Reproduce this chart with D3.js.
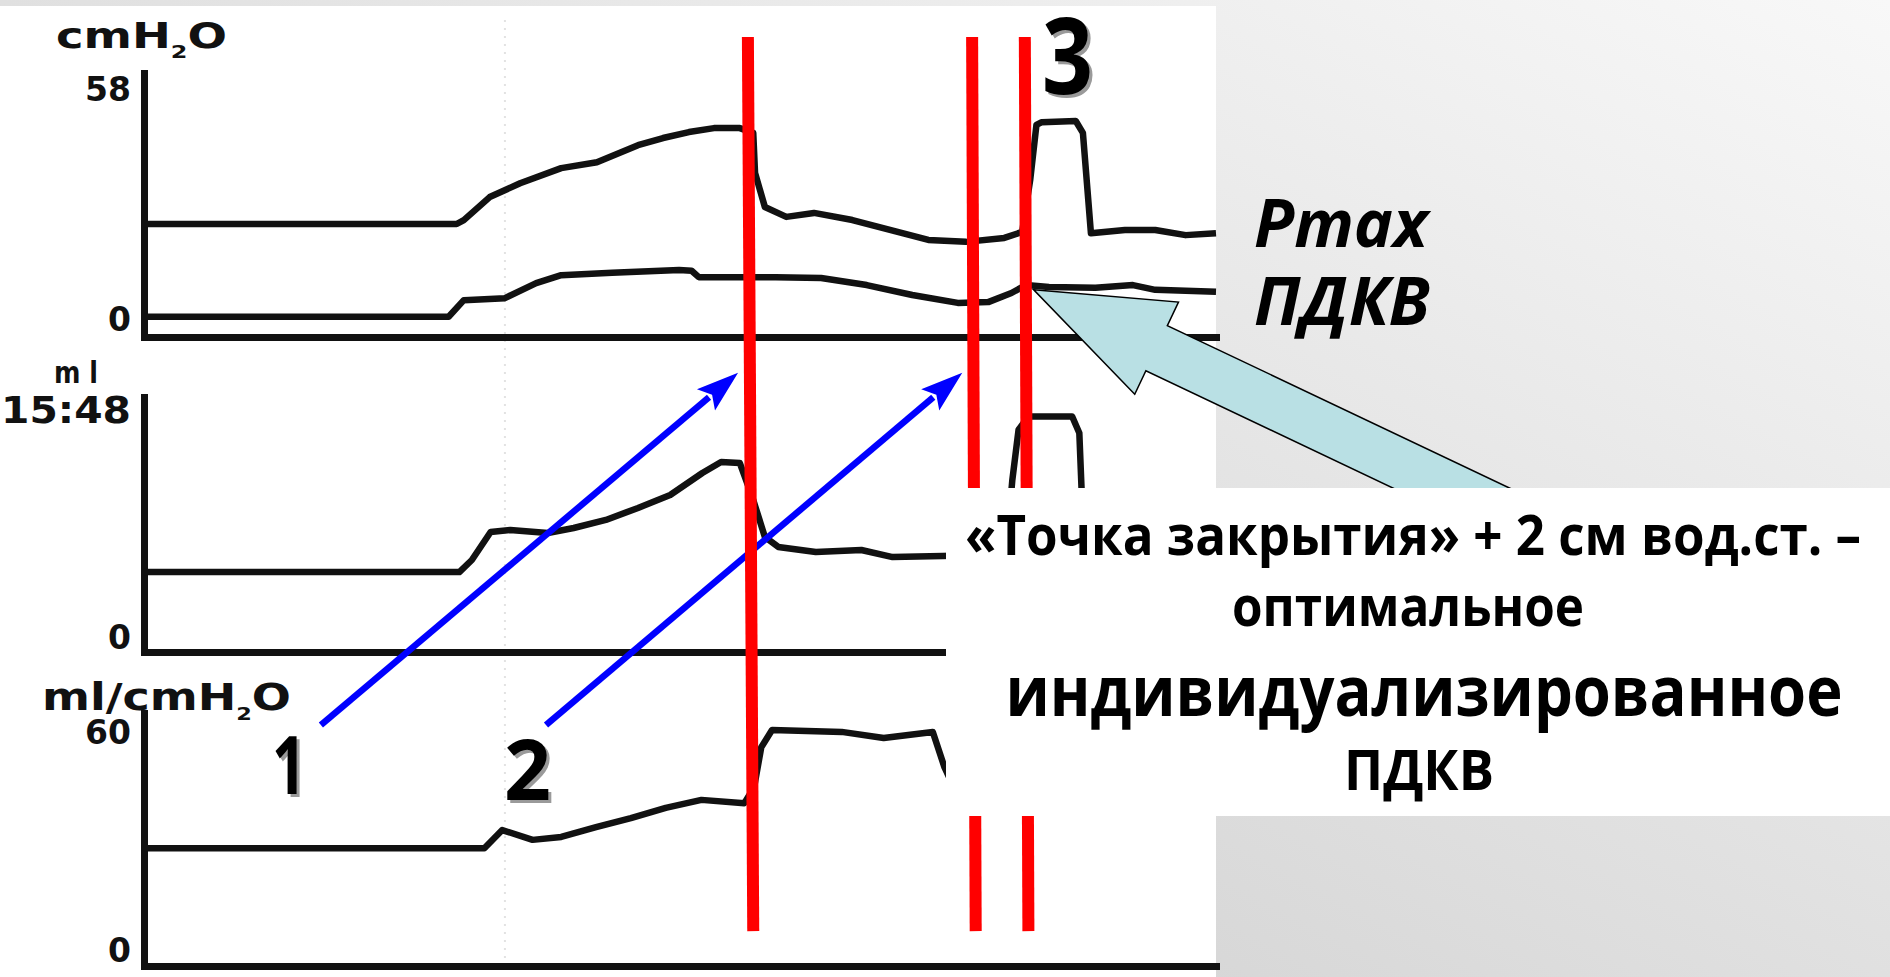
<!DOCTYPE html>
<html lang="ru">
<head>
<meta charset="utf-8">
<title>ПДКВ</title>
<script src="https://d3js.org/d3.v7.min.js"></script>
<style>
  html, body { margin: 0; padding: 0; overflow: hidden; background: #fff; }
  svg { display: block; }
  .tick text { font-family: "DejaVu Sans", sans-serif; font-weight: bold; font-size: 33px; fill: #111; }
  .unit { font-family: "Liberation Sans Narrow", "DejaVu Sans Condensed", "Liberation Sans", sans-serif; font-weight: bold; fill: #111; }
  .big { font-family: "Open Sans", sans-serif; font-weight: 700; }
</style>
</head>
<body>
<script>
  const width = 1890;
  const height = 977;

  // time, s (shared by all three curves)
  const tPmax = [0, 35.0, 35.8, 38.7, 42.1, 46.7, 50.7, 55.3, 58.1, 61.0, 63.8, 66.7, 68.2, 68.4, 69.5, 71.9, 75.0, 79.3, 83.5, 87.8, 92.0, 96.3, 98.3, 99.2, 99.9, 100.5, 104.3, 105.1, 105.7, 106.0, 109.8, 113.2, 116.6, 120];
  const pmax = [24.2, 24.2, 25.2, 31.0, 34.5, 38.3, 39.8, 44.1, 45.9, 47.4, 48.4, 48.4, 47.2, 37.1, 28.5, 26.0, 27.0, 25.2, 22.7, 20.2, 19.7, 20.7, 22.2, 35.3, 49.2, 49.9, 50.2, 47.2, 30.3, 21.9, 22.7, 22.7, 21.4, 21.9];

  const tPeep = [0, 34.1, 35.8, 40.4, 43.9, 46.7, 52.4, 59.9, 61.3, 62.1, 67.7, 70.7, 75.8, 80.9, 86.0, 91.1, 94.5, 97.1, 98.7, 101.3, 106.5, 110.7, 113.2, 120];
  const peep = [0.8, 0.8, 5.0, 5.5, 9.3, 11.3, 11.9, 12.6, 12.4, 10.8, 10.8, 10.8, 10.6, 8.8, 6.3, 4.3, 4.5, 6.8, 8.8, 8.3, 8.1, 8.8, 7.6, 7.1];

  const tVolume = [0, 35.3, 36.7, 38.8, 41.0, 45.2, 48.1, 51.7, 55.3, 58.9, 62.5, 64.6, 66.7, 68.2, 69.5, 71.0, 75.2, 80.3, 83.8, 89.4, 93.6, 96.5, 97.2, 97.9, 99.0, 103.9, 104.7, 105.0, 105.5, 109.3, 120];
  const volume = [450, 450, 532, 723, 737, 716, 750, 805, 887, 975, 1125, 1200, 1193, 941, 689, 621, 586, 600, 552, 559, 566, 586, 1077, 1420, 1510, 1510, 1398, 941, 532, 498, 532];

  const tCompliance = [0, 38.1, 40.1, 43.5, 46.7, 50.6, 54.5, 58.4, 62.4, 67.2, 68.3, 69.1, 70.3, 78.1, 82.8, 88.3, 89.6, 91.3, 95.8, 99.5, 100.5, 102.5, 106, 120];
  const compliance = [28.3, 28.3, 33.3, 30.6, 31.4, 34.1, 36.6, 39.4, 41.6, 40.7, 45.1, 56.1, 60.8, 60.3, 58.6, 60.3, 50.6, 41.6, 40.2, 38.6, 38.2, 39.6, 40.2, 40.2];

  const pressureTicks = [0, 58];
  const volumeTicks = [0, 1548];
  const volumeTickLabels = ["0", "15:48"];
  const complianceTicks = [0, 60];

  // red markers: time at top / at bottom
  const markerTop = [67.6, 92.7, 98.6];
  const markerBottom = [68.2, 93.1, 99.0];
  const markerTopPressure = 71.4;
  const markerBottomCompliance = 5.5;

  // blue pointers: tail (t, compliance) -> head (t, volume)
  const pointerTailT = [19.8, 45.0];
  const pointerTailC = [62.2, 62.2];
  const pointerHeadT = [66.5, 91.6];
  const pointerHeadV = [1808, 1808];

  // the big arrow points here (t, pressure)
  const calloutT = 99.6;
  const calloutP = 7.6;

  const svg = d3.select("body").append("svg").attr("width", width).attr("height", height);

  const defs = svg.append("defs");
  const grad = defs.append("linearGradient").attr("id", "bg")
    .attr("x1", 0).attr("y1", 1).attr("x2", 1).attr("y2", 0);
  grad.append("stop").attr("offset", 0).attr("stop-color", "#c8c8c8");
  grad.append("stop").attr("offset", 1).attr("stop-color", "#f8f8f8");

  svg.append("rect").attr("width", width).attr("height", height).attr("fill", "url(#bg)");
  svg.append("rect").attr("x", 0).attr("y", 6).attr("width", 1216).attr("height", height - 6).attr("fill", "#fff");

  const x = d3.scaleLinear().domain([0, 120]).range([144, 1216]);
  const yP = d3.scaleLinear().domain([-4.3, 62.3]).range([337, 73]);
  const yV = d3.scaleLinear().domain([-95, 1643]).range([652, 397]);
  const yC = d3.scaleLinear().domain([-4.1, 65.5]).range([966, 713]);

  // faint dotted grid trace of the scan
  svg.append("line")
    .attr("x1", x(40.4)).attr("x2", x(40.4)).attr("y1", 20).attr("y2", 970)
    .attr("stroke", "#e2e2e2").attr("stroke-width", 2).attr("stroke-dasharray", "2,6");

  function panel(y, ticks, labels) {
    const ax = d3.axisLeft(y).tickValues(ticks).tickSize(0).tickSizeOuter(0).tickPadding(13);
    if (labels) ax.tickFormat((d, i) => labels[i]);
    const gy = svg.append("g").attr("transform", `translate(${x.range()[0]},0)`).call(ax);
    gy.select(".domain").attr("stroke", "#111").attr("stroke-width", 7).attr("stroke-linecap", "square");
    const gx = svg.append("g").attr("transform", `translate(0,${y.range()[0]})`)
      .call(d3.axisBottom(x).tickValues([]).tickSizeOuter(0));
    gx.select(".domain").attr("stroke", "#111").attr("stroke-width", 7).attr("stroke-linecap", "square");
    return gy;
  }
  panel(yP, pressureTicks);
  panel(yV, volumeTicks, volumeTickLabels)
    .selectAll(".tick text").filter(d => d === 1548)
    .style("font-size", "37px").attr("textLength", 130).attr("lengthAdjust", "spacingAndGlyphs");
  panel(yC, complianceTicks);

  function trace(ts, vs, y) {
    svg.append("path")
      .datum(d3.zip(ts, vs))
      .attr("fill", "none")
      .attr("stroke", "#111")
      .attr("stroke-width", 6.5)
      .attr("stroke-linejoin", "round")
      .attr("d", d3.line().x(d => x(d[0])).y(d => y(d[1])));
  }
  trace(tPmax, pmax, yP);
  trace(tPeep, peep, yP);
  trace(tVolume, volume, yV);
  trace(tCompliance, compliance, yC);

  // unit labels
  function unit(xx, yy, size, len, parts) {
    const t = svg.append("text").attr("class", "unit").attr("x", xx).attr("y", yy)
      .attr("font-size", size).attr("textLength", len).attr("lengthAdjust", "spacingAndGlyphs");
    parts.forEach(p => {
      t.append("tspan").attr("dy", p[1]).attr("font-size", p[2] || null).text(p[0]);
    });
  }
  unit(56, 48, 35, 171, [["cmH", 0], ["2", 10, 18], ["O", -10]]);
  unit(54, 383, 30, 44, [["m l", 0]]);
  unit(42, 710, 37, 249, [["ml/cmH", 0], ["2", 10, 18], ["O", -10]]);

  // blue pointers
  const blue = "#0000ff";
  pointerTailT.forEach((t0, i) => {
    const x0 = x(t0), y0 = yC(pointerTailC[i]);
    const x1 = x(pointerHeadT[i]), y1 = yV(pointerHeadV[i]);
    const len = Math.hypot(x1 - x0, y1 - y0);
    const ux = (x1 - x0) / len, uy = (y1 - y0) / len;
    const hl = 42, hw = 14;
    const bx = x1 - ux * hl, by = y1 - uy * hl;
    svg.append("line").attr("x1", x0).attr("y1", y0).attr("x2", bx + ux * 4).attr("y2", by + uy * 4)
      .attr("stroke", blue).attr("stroke-width", 6.5);
    svg.append("polygon")
      .attr("points", [[x1, y1], [bx - uy * hw, by + ux * hw], [bx + ux * 8, by + uy * 8], [bx + uy * hw, by - ux * hw]].map(p => p.join(",")).join(" "))
      .attr("fill", blue);
  });

  // red markers
  markerTop.forEach((t0, i) => {
    svg.append("line")
      .attr("x1", x(t0)).attr("y1", yP(markerTopPressure))
      .attr("x2", x(markerBottom[i])).attr("y2", yC(markerBottomCompliance))
      .attr("stroke", "#ff0000").attr("stroke-width", 12);
  });

  // numbers with soft shadow
  function num(txt, xx, yy, size, len) {
    [["#9a9a9a", 3], ["#000", 0]].forEach(([c, o]) => {
      svg.append("text").attr("class", "big").attr("x", xx + o).attr("y", yy + o)
        .attr("font-size", size).attr("font-weight", 800).attr("fill", c)
        .attr("textLength", len).attr("lengthAdjust", "spacingAndGlyphs").text(txt);
    });
  }
  num("1", 272, 794, 80, 34);
  num("2", 504, 800, 84, 47);
  num("3", 1042, 94, 106, 51);

  // big callout arrow
  const tipX = x(calloutT), tipY = yP(calloutP);
  svg.append("polygon")
    .attr("transform", `translate(${tipX},${tipY}) rotate(25.4)`)
    .attr("points", [[0, 0], [136, -51], [136, -25], [560, -25], [560, 25], [136, 25], [136, 51]].map(p => p.join(",")).join(" "))
    .attr("fill", "#b9e0e4").attr("stroke", "#000").attr("stroke-width", 1.5).attr("stroke-linejoin", "miter");

  // text box
  svg.append("rect").attr("x", 946).attr("y", 488).attr("width", width - 946).attr("height", 328).attr("fill", "#fff");
  const lines = [
    ["«Точка закрытия» + 2 см вод.ст. –", 1413, 555, 56, 896],
    ["оптимальное", 1408, 626, 56, 352],
    ["индивидуализированное", 1424, 716, 69, 837],
    ["ПДКВ", 1419, 790, 56, 150]
  ];
  lines.forEach(([s, cx, by, size, len]) => {
    svg.append("text").attr("class", "big").attr("x", cx - len / 2).attr("y", by)
      .attr("font-size", size).attr("textLength", len).attr("lengthAdjust", "spacingAndGlyphs").text(s);
  });

  [["Pmax", 247, 174], ["ПДКВ", 325, 176]].forEach(([s, by, len]) => {
    svg.append("text").attr("class", "big").attr("x", 1254).attr("y", by)
      .attr("font-size", 66).attr("font-style", "italic").attr("textLength", len)
      .attr("lengthAdjust", "spacingAndGlyphs").text(s);
  });
</script>
</body>
</html>
